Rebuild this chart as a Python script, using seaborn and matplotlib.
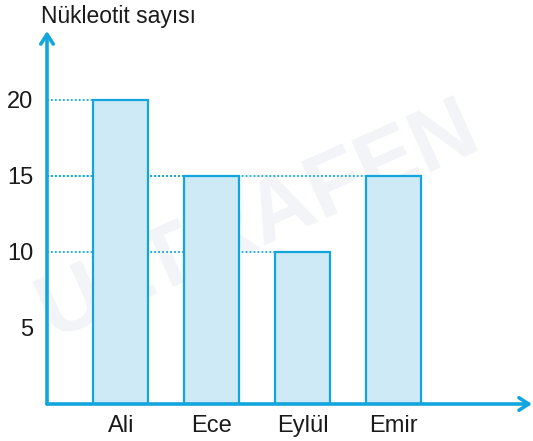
import pandas as pd
import seaborn as sns
import matplotlib.pyplot as plt

names = ['Ali', 'Ece', 'Eylül', 'Emir']
counts = [20, 15, 10, 15]
y_ticks = [5, 10, 15, 20]
y_title = 'Nükleotit sayısı'

blue = '#12a6dc'
fill = '#cdeaf6'

sns.set_style('white')
plt.rcParams['font.family'] = ['Liberation Sans', 'DejaVu Sans']

df = pd.DataFrame({'isim': names, 'sayi': counts})

fig = plt.figure(figsize=(5.33, 4.41), dpi=100)
ax = fig.add_axes([47 / 533, 1 - 404 / 441, 485 / 533, 373 / 441])
ax.set_zorder(1)

# faint watermark behind everything
fig.text(0.485, 0.50, 'ULTRAFEN', fontsize=64, fontweight='bold', color='#f2f4f7',
         rotation=24, ha='center', va='center', zorder=0)

sns.barplot(data=df, x='isim', y='sayi', color=fill, width=0.6, saturation=1,
            edgecolor=blue, linewidth=1.6, zorder=3, ax=ax)

x_left, x_right = -0.81, 4.52
ax.set_xlim(x_left, x_right)
ax.set_ylim(0, 24.5)

# dotted guide lines from the y axis to each bar
for i, v in enumerate(counts):
    ax.hlines(v, x_left, i - 0.3, colors=blue, linestyles=(0, (1, 1.2)), lw=1.3, zorder=2)

for s in ax.spines.values():
    s.set_visible(False)
ax.patch.set_alpha(0)

arrow = dict(arrowstyle='->,head_length=0.7,head_width=0.45', lw=2.6, color=blue,
             shrinkA=0, shrinkB=0)
ax.annotate('', xy=(1, 0), xytext=(0, 0), xycoords='axes fraction', arrowprops=arrow)
ax.annotate('', xy=(0, 1), xytext=(0, 0), xycoords='axes fraction', arrowprops=arrow)

ax.set_yticks(y_ticks)
ax.set_yticklabels([str(t) for t in y_ticks])
ax.tick_params(axis='both', length=0, labelsize=17, colors='#1a1a1a')
ax.tick_params(axis='y', pad=10)
ax.tick_params(axis='x', pad=8)
ax.set_xlabel('')
ax.set_ylabel('')

fig.text(41 / 533, 1 - 16 / 441, y_title, fontsize=16.5, color='#1a1a1a', va='center', ha='left')

fig.savefig('out.png', dpi=100)
